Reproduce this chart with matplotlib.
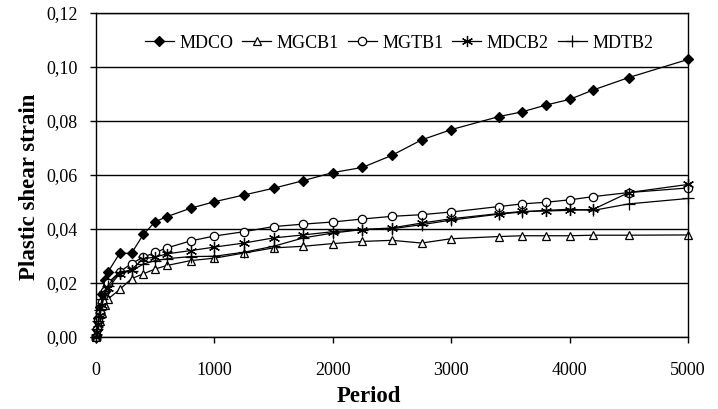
import matplotlib
matplotlib.use("Agg")
import matplotlib.pyplot as plt
from matplotlib.ticker import FuncFormatter, MultipleLocator

plt.rcParams['font.family'] = ['Liberation Serif', 'DejaVu Serif']

period = [0, 10, 20, 30, 50, 75, 100, 200, 300, 400, 500, 600, 800, 1000,
          1250, 1500, 1750, 2000, 2250, 2500, 2750, 3000, 3400, 3600, 3800,
          4000, 4200, 4500, 5000]

mdco = [0, 0.003, 0.007, 0.011, 0.016, 0.021, 0.024, 0.031, 0.031, 0.038,
        0.0427, 0.0446, 0.0477, 0.0501, 0.0526, 0.0551, 0.0579, 0.0609,
        0.0628, 0.0673, 0.073, 0.0768, 0.0816, 0.0834, 0.0859, 0.088,
        0.0915, 0.0961, 0.1028]
mgcb1 = [0, 0.002, 0.004, 0.006, 0.009, 0.012, 0.014, 0.0176, 0.0216,
         0.0234, 0.0252, 0.0265, 0.0283, 0.0292, 0.0311, 0.033, 0.0336,
         0.0346, 0.0354, 0.0358, 0.0348, 0.0364, 0.0372, 0.0375, 0.0375,
         0.0375, 0.0377, 0.0377, 0.0378]
mgtb1 = [0, 0.003, 0.006, 0.009, 0.013, 0.017, 0.020, 0.0241, 0.0272,
         0.0296, 0.0313, 0.033, 0.0356, 0.0374, 0.039, 0.0409, 0.0418,
         0.0426, 0.0437, 0.0447, 0.0453, 0.0463, 0.0483, 0.0493, 0.0499,
         0.0508, 0.052, 0.0535, 0.0552]
mdcb2 = [0, 0.002, 0.005, 0.008, 0.012, 0.016, 0.018, 0.0235, 0.025,
         0.029, 0.0296, 0.0308, 0.032, 0.0333, 0.0348, 0.0367, 0.0378,
         0.039, 0.0398, 0.0404, 0.0422, 0.0438, 0.0457, 0.0465, 0.0467,
         0.0469, 0.0473, 0.0535, 0.0565]
mdtb2 = [0, 0.003, 0.006, 0.010, 0.014, 0.017, 0.019, 0.0242, 0.0245,
         0.027, 0.0283, 0.029, 0.0298, 0.0299, 0.0314, 0.0336, 0.0367,
         0.0385, 0.0398, 0.0401, 0.0416, 0.0433, 0.0455, 0.0463, 0.0469,
         0.0473, 0.0469, 0.0493, 0.0513]

series = [
    ("MDCO", mdco, dict(marker='D', markersize=5, markerfacecolor='black')),
    ("MGCB1", mgcb1, dict(marker='^', markersize=6, markerfacecolor='white')),
    ("MGTB1", mgtb1, dict(marker='o', markersize=6, markerfacecolor='white')),
    ("MDCB2", mdcb2, dict(marker=(6, 2, 0), markersize=8)),
    ("MDTB2", mdtb2, dict(marker='+', markersize=9)),
]

fig = plt.figure(figsize=(7.18, 4.09), dpi=100)
ax = fig.add_axes([96/718, 1-337/409, (688-96)/718, (337-13)/409])

for name, vals, st in series:
    ax.plot(period, vals, color='black', linewidth=0.9,
            markeredgecolor='black', markeredgewidth=0.9, label=name,
            clip_on=False, **st)

ax.set_xlim(0, 5000)
ax.set_ylim(0, 0.12)
ax.xaxis.set_major_locator(MultipleLocator(1000))
ax.yaxis.set_major_locator(MultipleLocator(0.02))
ax.yaxis.set_major_formatter(FuncFormatter(lambda v, p: f"{v:.2f}".replace('.', ',')))
ax.xaxis.set_major_formatter(FuncFormatter(lambda v, p: f"{int(round(v))}"))
ax.grid(axis='y', color='black', linewidth=1.0)
ax.set_axisbelow(True)
for s in ax.spines.values():
    s.set_color('black')
    s.set_linewidth(1.0)
ax.tick_params(axis='both', direction='out', length=4, width=1, labelsize=13,
               colors='black')
ax.tick_params(axis='y', pad=9)
ax.tick_params(axis='x', pad=14)

leg = ax.legend(loc='center', bbox_to_anchor=((399-96)/592, (337-43)/324),
                ncol=5, frameon=False, fontsize=13, handlelength=1.6,
                handletextpad=0.3, columnspacing=0.5, borderpad=0.2)

fig.text(30/718, 1-187/409, "Plastic shear strain", rotation=90,
         ha='center', va='center', fontsize=16.5, fontweight='bold')
fig.text(369/718, 1-396/409, "Period", ha='center', va='center',
         fontsize=16.5, fontweight='bold')

fig.savefig("out.png", dpi=100)
